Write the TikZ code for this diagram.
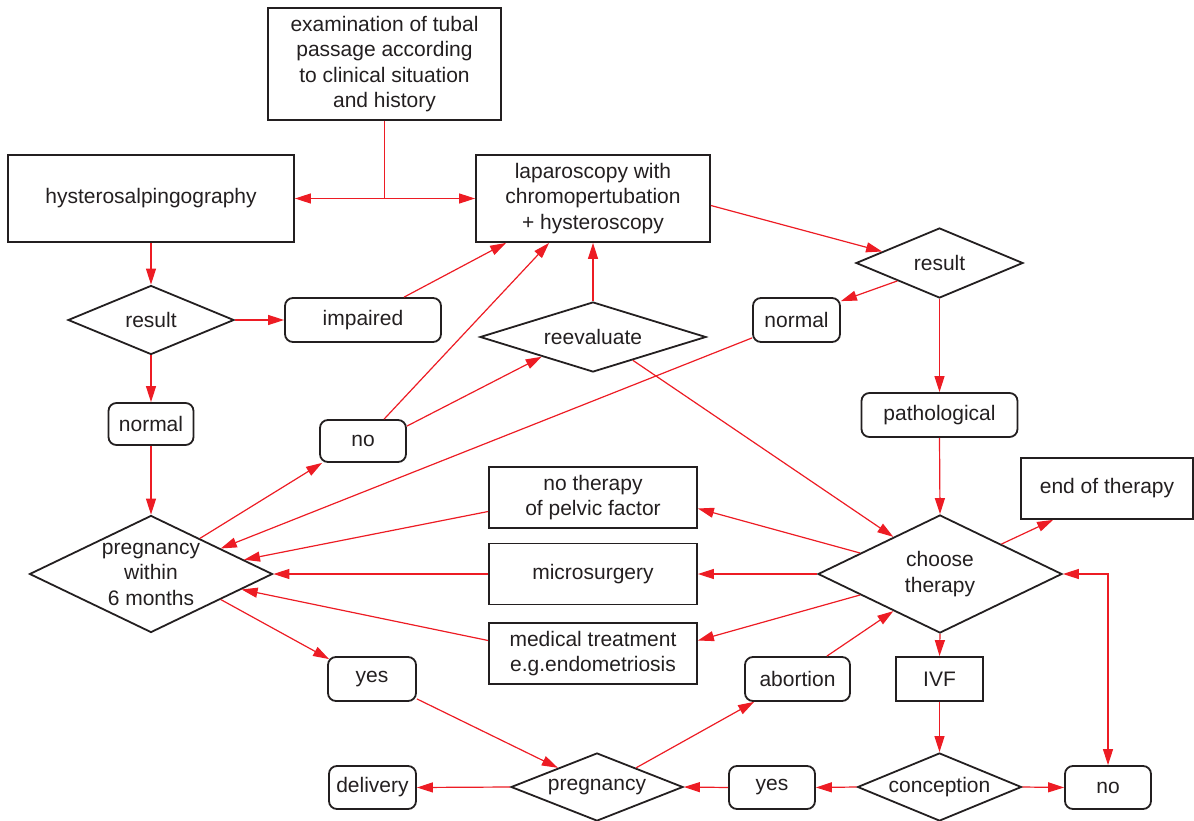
\documentclass[tikz,border=0pt]{standalone}
\usepackage{fontspec}
\setmainfont{Liberation Sans}
\usetikzlibrary{shapes.geometric,arrows.meta,calc}
\definecolor{fred}{RGB}{237,28,36}
\definecolor{fblk}{RGB}{35,31,32}
\begin{document}
\begin{tikzpicture}[x=1pt,y=-1pt,
  font=\fontsize{21}{25.5}\selectfont,
  box/.style={draw=fblk, line width=1.8pt, inner sep=0pt, align=center, text=fblk},
  rbox/.style={box, rounded corners=8pt},
  dia/.style={draw=fblk, line width=1.8pt, diamond, inner sep=0pt},
  lbl/.style={align=center, text=fblk, inner sep=0pt},
  tip/.tip={Triangle[length=16pt,width=10pt]},
  con/.style={draw=fred, line width=1.2pt, -tip},
  conboth/.style={draw=fred, line width=1.2pt, tip-tip},
  plain/.style={draw=fred, line width=1.2pt},
]
\useasboundingbox (0,0) rectangle (1194,821);

% boxes
\node[box, minimum width=233, minimum height=112] (exam) at (384.5,64) {examination of tubal\\passage according\\to clinical situation\\and history};
\node[box, minimum width=286, minimum height=87] (hyst) at (151,198.5) {hysterosalpingography};
\node[box, minimum width=234, minimum height=87] (lap) at (593,198.5) {laparoscopy with\\chromopertubation\\+ hysteroscopy};
\node[rbox, minimum width=156, minimum height=44] (imp) at (363,320) {impaired};
\node[rbox, minimum width=85, minimum height=42] (normL) at (151,424) {normal};
\node[rbox, minimum width=86, minimum height=42] (noL) at (363,441) {no};
\node[rbox, minimum width=87, minimum height=44] (normR) at (796.5,320) {normal};
\node[rbox, minimum width=156, minimum height=44] (path) at (939.5,415) {pathological};
\node[box, minimum width=172, minimum height=61] (endt) at (1107,488.5) {end of therapy};
\node[box, minimum width=208, minimum height=61] (nother) at (593,497.5) {no therapy\\of pelvic factor};
\node[box, minimum width=208, minimum height=61] (micro) at (593,574) {microsurgery};
\node[box, minimum width=208, minimum height=61] (med) at (593,653.5) {medical treatment\\e.g.endometriosis};
\node[rbox, minimum width=88, minimum height=44] (yesL) at (372,679) {yes};
\node[rbox, minimum width=105, minimum height=44] (abort) at (797.5,679) {abortion};
\node[box, minimum width=87, minimum height=44] (ivf) at (939.5,679) {IVF};
\node[rbox, minimum width=87, minimum height=43] (deliv) at (372.5,787.5) {delivery};
\node[rbox, minimum width=86, minimum height=43] (yesB) at (772,787.5) {yes};
\node[rbox, minimum width=86, minimum height=43] (noB) at (1108,787.5) {no};

% diamonds
\node[dia, minimum width=166, minimum height=69] (resL) at (151,320) {};
\node[lbl] at (resL) {result};
\node[dia, minimum width=243, minimum height=117] (preg6) at (151,574) {};
\node[lbl] at (preg6) {pregnancy\\within\\6 months};
\node[dia, minimum width=226, minimum height=70] (reev) at (593,337) {};
\node[lbl] at (reev) {reevaluate};
\node[dia, minimum width=167, minimum height=70] (resR) at (939.5,263) {};
\node[lbl] at (resR) {result};
\node[dia, minimum width=244, minimum height=118] (choose) at (940,574) {};
\node[lbl] at (choose) {choose\\therapy};
\node[dia, minimum width=164, minimum height=68] (conc) at (939.5,787) {};
\node[lbl] at (conc) {conception};
\node[dia, minimum width=172, minimum height=68] (preg) at (597,787) {};
\node[lbl] at (preg) {pregnancy};

% connectors
\coordinate (j) at (exam.south |- hyst.east);
\draw[plain] (exam.south) -- (j);
\draw[con] (j) -- (hyst.east);
\draw[con] (j) -- (lap.west);
\draw[con] (hyst.south) -- (resL.north);
\draw[con] (resL.east) -- (imp.west);
\draw[con] (resL.south) -- (normL.north);
\draw[con] (normL.south) -- (preg6.north);
\draw[con] ($(imp.north west)+(120,0)$) -- ($(lap.south west)+(31,0)$);
\draw[con] ($(noL.north west)+(65,0)$) -- ($(lap.south west)+(74,0)$);
\draw[con] ($(noL.north east)+(0,7)$) -- ($(reev.west)!0.55!(reev.south)$);
\draw[con] (reev.north) -- (lap.south);
\draw[con] ($(preg6.north)!0.4!(preg6.east)$) -- ($(noL.south west)+(3,0)$);
\draw[con] ($(normR.south west)+(0,-5)$) -- ($(preg6.north)!0.57!(preg6.east)$);
\draw[con] ($(lap.east)+(0,7)$) -- ($(resR.north)!0.68!(resR.west)$);
\draw[con] ($(resR.west)!0.5!(resR.south)$) -- ($(normR.north east)+(0,4)$);
\draw[con] (resR.south) -- (path.north);
\draw[con] (path.south) -- (choose.north);
\draw[con] ($(reev.east)!0.65!(reev.south)$) -- ($(choose.north)!0.38!(choose.west)$);
\draw[con] ($(choose.north)!0.65!(choose.west)$) -- ($(nother.east)+(0,11)$);
\draw[con] (choose.west) -- (micro.east);
\draw[con] ($(choose.south)!0.65!(choose.west)$) -- ($(med.east)+(0,-13)$);
\draw[con] ($(nother.west)+(0,14)$) -- ($(preg6.north)!0.76!(preg6.east)$);
\draw[con] (micro.west) -- (preg6.east);
\draw[con] ($(med.west)+(0,-13)$) -- ($(preg6.south)!0.74!(preg6.east)$);
\draw[con] ($(preg6.south)!0.57!(preg6.east)$) -- ($(yesL.north west)+(2,3)$);
\draw[con] ($(yesL.south east)+(0,-3)$) -- ($(preg.north)!0.45!(preg.west)$);
\draw[con] ($(preg.north)!0.45!(preg.east)$) -- ($(abort.south west)+(10,0)$);
\draw[con] ($(abort.north east)+(-24,0)$) -- ($(choose.south)!0.38!(choose.west)$);
\draw[con] ($(choose.north)!0.5!(choose.east)$) -- ($(endt.south west)+(33,0)$);
\draw[con] (choose.south) -- (ivf.north);
\draw[con] (ivf.south) -- (conc.north);
\draw[con] (conc.west) -- (yesB.east);
\draw[con] (yesB.west) -- (preg.east);
\draw[con] (preg.west) -- (deliv.east);
\draw[con] (conc.east) -- (noB.west);
\draw[conboth] (noB.north) |- (choose.east);
\end{tikzpicture}
\end{document}
